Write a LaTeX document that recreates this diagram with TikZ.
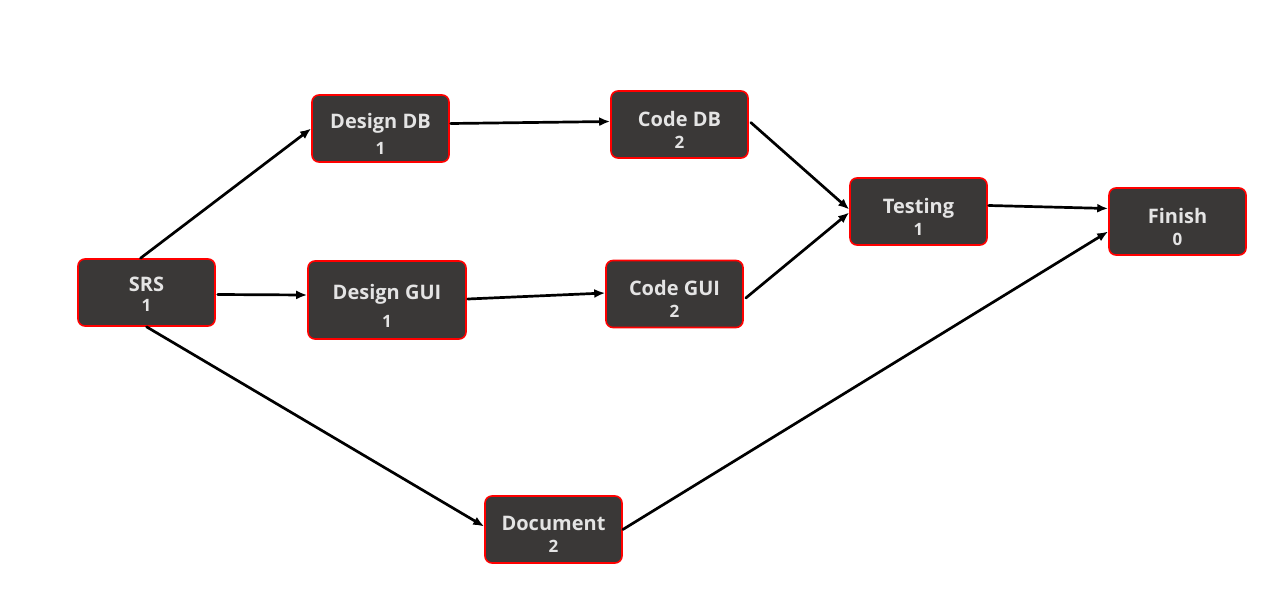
\documentclass[tikz,border=0pt]{standalone}
\usepackage{fontspec}
\setmainfont{Open Sans}
\usepackage{tikz}
\usetikzlibrary{calc}
\usetikzlibrary{arrows.meta}

\begin{document}
\begin{tikzpicture}
				[x=0.5pt,y=0.5pt,line cap=round,
				%Styles
				task/.style={draw=red,fill=taskfill,line width=0.8pt,rounded corners=3.5pt,
					minimum width=68.5pt,minimum height=33.5pt,inner sep=0pt},
				tasklabel/.style={text=tasktext,align=center,font=\bfseries,inner sep=0pt},
				link/.style={-{Latex[length=5.5pt,width=4.5pt]},line width=1.35pt}
				]
				
				%Colors
				\definecolor{taskfill}{HTML}{3A3837}	%box fill
				\definecolor{tasktext}{HTML}{E4E4E4}	%box text
				\newcommand{\ttl}[1]{{\fontsize{10}{12}\selectfont #1}}
				\newcommand{\num}[1]{{\fontsize{8.5}{10}\selectfont #1}}
				
				\useasboundingbox (0,0) rectangle (1277,607);
				
				%The graphic
				\node[task,label={[tasklabel,yshift=-1pt]center:{\ttl{SRS}\\[-2pt]\num{1}}}] (srs) at (146.5,314.5) {};
				\node[task,label={[tasklabel,yshift=-2.5pt]center:{\ttl{Design DB}\\[1pt]\num{1}}}] (ddb) at (380.5,478.5) {};
				\node[task,minimum width=79pt,minimum height=39pt,
					label={[tasklabel,yshift=-3pt]center:{\ttl{Design GUI}\\[2pt]\num{1}}}] (dgui) at (387,307) {};
				\node[task,label={[tasklabel,yshift=-2.5pt]center:{\ttl{Code DB}\\[-1pt]\num{2}}}] (cdb) at (679.5,482.5) {};
				\node[task,label={[tasklabel,yshift=-2.5pt]center:{\ttl{Code GUI}\\[-1pt]\num{2}}}] (cgui) at (674.5,313) {};
				\node[task,label={[tasklabel,yshift=-2.5pt]center:{\ttl{Testing}\\[-1pt]\num{1}}}] (test) at (918.5,395.5) {};
				\node[task,label={[tasklabel,yshift=-2.5pt]center:{\ttl{Finish}\\[-1pt]\num{0}}}] (fin) at (1177.5,385.5) {};
				\node[task,label={[tasklabel,yshift=-2.5pt]center:{\ttl{Document}\\[-1pt]\num{2}}}] (doc) at (553.5,77.5) {};
				
				\draw[link] ($(srs.north)+(-6,0)$) -- (ddb.west);
				\draw[link] ($(srs.east)+(2,-2)$) -- ($(dgui.west)+(0,5)$);
				\draw[link] (srs.south) -- ($(doc.west)+(0,3)$);
				\draw[link] ($(ddb.east)+(1,5)$) -- ($(cdb.west)+(0,3)$);
				\draw[link] ($(dgui.east)+(1,1)$) -- ($(cgui.west)+(0,1)$);
				\draw[link] ($(cdb.east)+(2,2)$) -- ($(test.west)+(0,2)$);
				\draw[link] ($(cgui.east)+(2,-4)$) -- ($(test.west)+(0,-1)$);
				\draw[link] ($(test.east)+(1,6)$) -- ($(fin.west)+(0,13)$);
				\draw[link] (doc.east) -- ($(fin.west)+(0,-10)$);
			\end{tikzpicture}
\end{document}
